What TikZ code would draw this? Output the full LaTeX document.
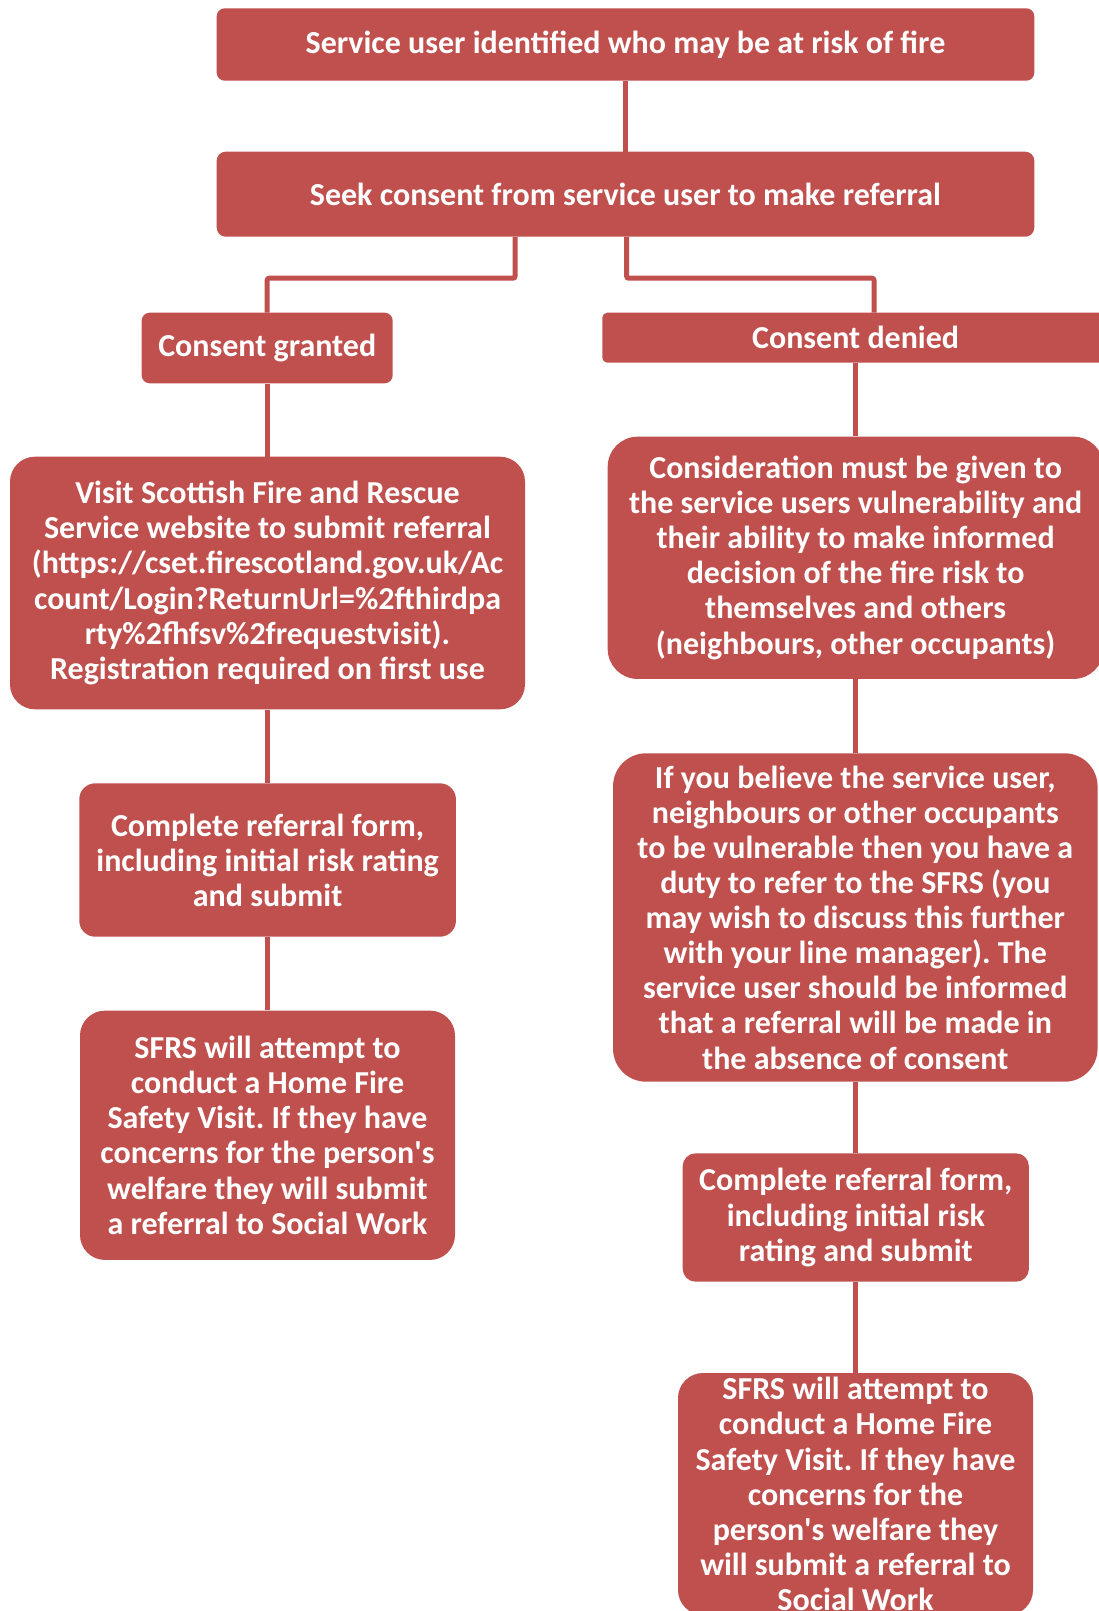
\documentclass[tikz,border=0pt]{standalone}
\usepackage{fontspec}
\setmainfont{Carlito}
\frenchspacing
\definecolor{boxred}{HTML}{C0504D}
\tikzset{
  box/.style={fill=boxred, text=white, font=\bfseries\fontsize{32}{35.1}\selectfont,
    align=center, inner sep=0pt},
  conn/.style={draw=boxred, line width=5pt, rounded corners=2pt}
}
\begin{document}
\begin{tikzpicture}[x=1pt,y=-1pt]
\useasboundingbox (0,0) rectangle (1098,1611);

% top
\node[box, minimum width=817.6pt, minimum height=72.4pt, rounded corners=8pt] (b1) at (625.5,44.5)
  {Service user identified who may be at risk of fire};
\node[box, minimum width=817.6pt, minimum height=85pt, rounded corners=9pt] (b2) at (625.5,194.2)
  {Seek consent from service user to make referral};

% left column
\node[box, minimum width=251pt, minimum height=70.6pt, rounded corners=8pt] (granted) at (267.2,348)
  {Consent granted};
\node[box, minimum width=515pt, minimum height=252.6pt, rounded corners=25pt] (visit) at (267.5,583)
  {Visit Scottish Fire and Rescue\\Service website to submit referral\\(https://cset.firescotland.gov.uk/Ac\\count/Login?ReturnUrl=\%2fthirdpa\\rty\%2fhfsv\%2frequestvisit).\\Registration required on first use};
\node[box, minimum width=376.7pt, minimum height=153.4pt, rounded corners=16pt] (compL) at (267.6,860)
  {Complete referral form,\\including initial risk rating\\and submit};
\node[box, minimum width=375pt, minimum height=249.3pt, rounded corners=25pt] (sfrsL) at (267.5,1135.3)
  {SFRS will attempt to\\conduct a Home Fire\\Safety Visit. If they have\\concerns for the person\textquotesingle s\\welfare they will submit\\a referral to Social Work};

% right column
\node[box, minimum width=506.6pt, minimum height=50pt, rounded corners=5pt] (denied) at (855.6,337.7)
  {Consent denied};
\node[box, minimum width=495.8pt, minimum height=242.3pt, rounded corners=30pt] (consid) at (855.6,557.8)
  {Consideration must be given to\\the service users vulnerability and\\their ability to make informed\\decision of the fire risk to\\themselves and others\\(neighbours, other occupants)};
\node[box, minimum width=484.5pt, minimum height=328.4pt, rounded corners=33pt] (ifyou) at (855.3,917.5)
  {If you believe the service user,\\neighbours or other occupants\\to be vulnerable then you have a\\duty to refer to the SFRS (you\\may wish to discuss this further\\with your line manager). The\\service user should be informed\\that a referral will be made in\\the absence of consent};
\node[box, minimum width=346.3pt, minimum height=128.4pt, rounded corners=13pt] (compR) at (855.8,1217.5)
  {Complete referral form,\\including initial risk\\rating and submit};
\node[box, minimum width=355pt, minimum height=242pt, rounded corners=25pt] (sfrsR) at (855.5,1494)
  {SFRS will attempt to\\conduct a Home Fire\\Safety Visit. If they have\\concerns for the\\person\textquotesingle s welfare they\\will submit a referral to\\Social Work};

% connectors
\draw[conn] (b1.south) -- (b2.north);
\draw[conn] ([xshift=-110.5pt]b2.south) -- ++(0,41.3) -| (granted.north);
\draw[conn] ([xshift=1.2pt]b2.south) -- ++(0,41.3) -| ([xshift=18.4pt]denied.north);
\draw[conn] (granted.south) -- (granted.south |- visit.north);
\draw[conn] (visit.south) -- (visit.south |- compL.north);
\draw[conn] (compL.south) -- (compL.south |- sfrsL.north);
\draw[conn] (denied.south) -- (denied.south |- consid.north);
\draw[conn] (consid.south) -- (consid.south |- ifyou.north);
\draw[conn] (ifyou.south) -- (ifyou.south |- compR.north);
\draw[conn] (compR.south) -- (compR.south |- sfrsR.north);
\end{tikzpicture}
\end{document}
